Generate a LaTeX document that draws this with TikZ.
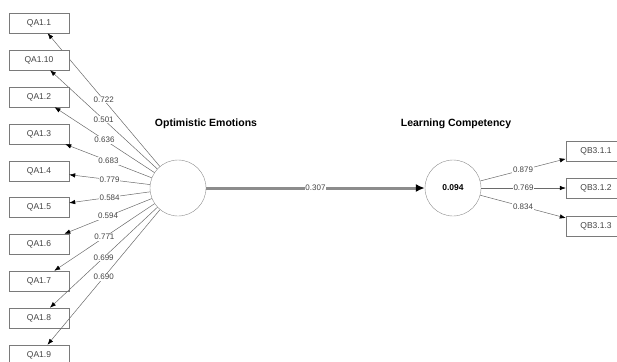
\documentclass[tikz,border=0pt]{standalone}
\usepackage{fontspec}
\setmainfont{Liberation Sans}
\usetikzlibrary{arrows.meta}

\definecolor{semgris}{HTML}{7A7A7A}
\definecolor{semtrait}{HTML}{6A6A6A}
\definecolor{semfleche}{HTML}{8C8C8C}
\definecolor{semtexte}{HTML}{444444}

\begin{document}
\begin{tikzpicture}[x=1pt, y=-1pt,
  indic/.style={draw=semgris, fill=white, minimum width=60pt, minimum height=20pt,
                inner sep=1pt, font=\fontsize{8.5}{10}\selectfont, text=semtexte},
  latent/.style={circle, draw=semgris!85, fill=white, minimum size=56pt, inner sep=0pt},
  charge/.style={draw=semtrait, line width=0.5pt, -{Latex[length=6pt, width=4.5pt, color=black]}},
  coef/.style={fill=white, inner sep=0.8pt, font=\fontsize{8}{9}\selectfont, text=semtexte},
  titre/.style={font=\fontsize{10.5}{12}\bfseries\selectfont}]

\useasboundingbox (0,0) rectangle (617,361);

% latent variables
\node[latent] (oe) at (178,188) {};
\node[latent, font=\fontsize{8.5}{10}\bfseries\selectfont] (lc) at (453,188) {0.094};
\node[titre] (oetitre) at (206,124) {Optimistic Emotions};
\node[titre] (lctitre) at (456,124) {Learning Competency};

% outer loadings, left block
\foreach \nom/\y/\val [count=\i] in {QA1.1/23/0.722, QA1.10/60/0.501, QA1.2/97/0.636,
    QA1.3/134/0.683, QA1.4/171/0.779, QA1.5/207/0.584, QA1.6/244/0.594,
    QA1.7/281/0.771, QA1.8/318/0.699, QA1.9/355/0.690} {
  \node[indic] (qa\i) at (39,\y) {\nom};
  \draw[charge] (oe) -- node[coef] {\val} (qa\i);
}

% outer loadings, right block
\foreach \nom/\y/\val [count=\i] in {QB3.1.1/151/0.879, QB3.1.2/188/0.769, QB3.1.3/226/0.834} {
  \node[indic] (qb\i) at (596,\y) {\nom};
  \draw[charge] (lc) -- node[coef] {\val} (qb\i);
}

% path coefficient
\draw[line width=3pt, semfleche, -{Latex[length=9pt, width=8pt, color=black]}]
  (oe.east) -- node[coef] {0.307} (lc.west);
\end{tikzpicture}
\end{document}
